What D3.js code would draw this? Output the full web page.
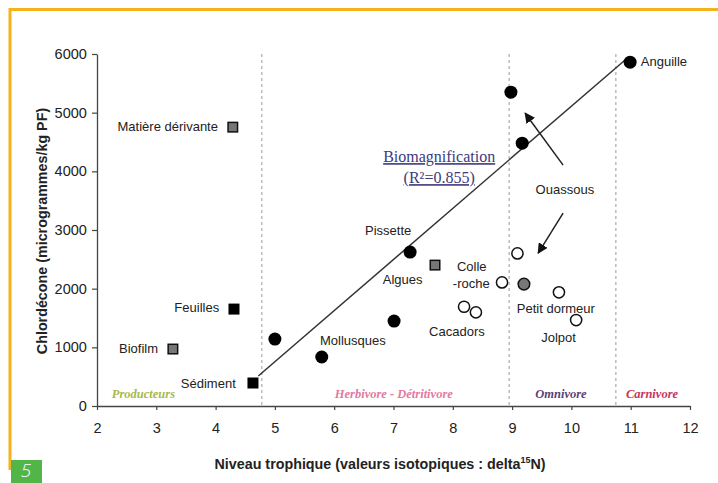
<!DOCTYPE html>
<html><head><meta charset="utf-8">
<script src="https://cdn.jsdelivr.net/npm/d3@7"></script>
<style>
html,body{margin:0;padding:0;background:#fff;}
svg{display:block;}
</style></head>
<body>
<svg id="chart" width="718" height="483"></svg>
<script>
// ---- data ----
const xTicks = [2,3,4,5,6,7,8,9,10,11,12];
const yTicks = [0,1000,2000,3000,4000,5000,6000];
const squaresBlack = [[4.31,1652],[4.63,392]];
const squaresGray = [[4.29,4753],[3.28,971],[7.70,2402]];
const dotsBlack = [[5.0,1141],[5.79,835],[7.01,1448],[7.28,2624],[8.98,5349],[9.17,4480],[10.99,5860]];
const dotsGray = [[9.20,2078]];
const dotsOpen = [[9.09,2601],[8.83,2107],[8.19,1692],[8.39,1596],[9.79,1937],[10.08,1465]];
const regression = [[4.72,511],[10.93,5920]];
const zoneBounds = [4.78,8.95,10.75];
const pointLabels = [
  ["Matière dérivante",4.04,4685,"end"],
  ["Anguille",11.17,5792,"start"],
  ["Pissette",6.52,2913,"start"],
  ["Algues",6.82,2078,"start"],
  ["Colle",8.07,2300,"start"],
  ["-roche",8.00,2010,"start"],
  ["Cacadors",7.60,1192,"start"],
  ["Mollusques",5.76,1039,"start"],
  ["Petit dormeur",9.08,1584,"start"],
  ["Jolpot",9.49,1090,"start"],
  ["Feuilles",4.06,1601,"end"],
  ["Biofilm",3.03,903,"end"],
  ["Sédiment",4.34,307,"end"],
  ["Ouassous",9.89,3612,"middle"]
];
const zoneLabels = [
  ["Producteurs",2.25,136,"#a8b84a"],
  ["Herbivore - Détritivore",6.01,136,"#e27aa0"],
  ["Omnivore",9.39,136,"#5b3f78"],
  ["Carnivore",10.92,136,"#c8345a"]
];
const arrows = [[[9.86,4106],[9.22,4991]],[[9.86,3288],[9.44,2606]]];

// ---- drawing ----
const svg = d3.select("#chart");
const x = d3.scaleLinear().domain([2,12]).range([97,690]);
const y = d3.scaleLinear().domain([0,6000]).range([406,54]);

// frame
svg.append("line").attr("x1",9).attr("x2",718).attr("y1",9.5).attr("y2",9.5).attr("stroke","#f6b21a").attr("stroke-width",3);
svg.append("line").attr("x1",10).attr("x2",10).attr("y1",8).attr("y2",470).attr("stroke","#f6b21a").attr("stroke-width",3);
svg.append("rect").attr("x",11).attr("y",460).attr("width",31).attr("height",23).attr("fill","#52b548");
svg.append("text").attr("x",26).attr("y",477).attr("text-anchor","middle").attr("fill","#fff")
  .attr("font-family","Open Sans, Liberation Sans, sans-serif").attr("font-size",19).attr("font-style","italic").attr("font-weight",300).text("5");

const defs = svg.append("defs");
defs.append("marker").attr("id","ah").attr("viewBox","0 0 10 10").attr("refX",9).attr("refY",5)
  .attr("markerWidth",7).attr("markerHeight",7).attr("orient","auto")
  .append("path").attr("d","M0,0 L10,5 L0,10 z").attr("fill","#111");

// zone dashed lines
svg.selectAll(".zone").data(zoneBounds).join("line")
  .attr("x1",d=>x(d)).attr("x2",d=>x(d)).attr("y1",y(6000)).attr("y2",y(0))
  .attr("stroke","#999").attr("stroke-width",1).attr("stroke-dasharray","3,3");

// axes
const font = "Liberation Sans, Arial, sans-serif";
const xAxis = svg.append("g").attr("transform",`translate(0,${y(0)})`)
  .call(d3.axisBottom(x).tickValues(xTicks).tickSize(4).tickSizeOuter(0).tickFormat(d3.format("d")));
const yAxis = svg.append("g").attr("transform",`translate(${x(2)},0)`)
  .call(d3.axisLeft(y).tickValues(yTicks).tickSize(5).tickSizeOuter(0).tickFormat(d3.format("d")));
[xAxis,yAxis].forEach(g=>{
  g.select(".domain").attr("stroke","#444").attr("stroke-width",1.3);
  g.selectAll(".tick line").attr("stroke","#444").attr("stroke-width",1.2);
  g.selectAll(".tick text").attr("font-family",font).attr("font-size",14.5).attr("fill","#222");
});
xAxis.selectAll(".tick text").attr("dy","1.4em");
yAxis.selectAll(".tick text").attr("dx","-0.15em");

// axis titles
svg.append("text").attr("x",380).attr("y",469).attr("text-anchor","middle")
  .attr("font-family",font).attr("font-size",14.3).attr("font-weight","bold").attr("fill","#222")
  .call(t=>{t.append("tspan").text("Niveau trophique (valeurs isotopiques : delta");
            t.append("tspan").attr("dy",-6).attr("font-size",9).text("15");
            t.append("tspan").attr("dy",6).text("N)");});
svg.append("text").attr("transform","translate(47,231) rotate(-90)").attr("text-anchor","middle")
  .attr("font-family",font).attr("font-size",14.3).attr("font-weight","bold").attr("fill","#222")
  .text("Chlordécone (microgrammes/kg PF)");

// regression line
svg.append("line").attr("x1",x(regression[0][0])).attr("y1",y(regression[0][1]))
  .attr("x2",x(regression[1][0])).attr("y2",y(regression[1][1]))
  .attr("stroke","#333").attr("stroke-width",1.5);

// arrows
svg.selectAll(".arr").data(arrows).join("line")
  .attr("x1",d=>x(d[0][0])).attr("y1",d=>y(d[0][1])).attr("x2",d=>x(d[1][0])).attr("y2",d=>y(d[1][1]))
  .attr("stroke","#222").attr("stroke-width",1.5).attr("marker-end","url(#ah)");

// squares
const sq = 11;
svg.selectAll(".sqb").data(squaresBlack).join("rect")
  .attr("x",d=>x(d[0])-sq/2).attr("y",d=>y(d[1])-sq/2).attr("width",sq).attr("height",sq)
  .attr("fill","#000");
svg.selectAll(".sqg").data(squaresGray).join("rect")
  .attr("x",d=>x(d[0])-sq/2+0.75).attr("y",d=>y(d[1])-sq/2+0.75).attr("width",sq-1.5).attr("height",sq-1.5)
  .attr("fill","#777").attr("stroke","#111").attr("stroke-width",1.5);
// dots
svg.selectAll(".db").data(dotsBlack).join("circle")
  .attr("cx",d=>x(d[0])).attr("cy",d=>y(d[1])).attr("r",6.5).attr("fill","#000");
svg.selectAll(".dg").data(dotsGray).join("circle")
  .attr("cx",d=>x(d[0])).attr("cy",d=>y(d[1])).attr("r",5.8).attr("fill","#777").attr("stroke","#111").attr("stroke-width",1.5);
svg.selectAll(".do").data(dotsOpen).join("circle")
  .attr("cx",d=>x(d[0])).attr("cy",d=>y(d[1])).attr("r",5.6).attr("fill","#fff").attr("stroke","#111").attr("stroke-width",1.5);

// point labels
svg.selectAll(".pl").data(pointLabels).join("text")
  .attr("x",d=>x(d[1])).attr("y",d=>y(d[2])).attr("text-anchor",d=>d[3])
  .attr("font-family",font).attr("font-size",13).attr("fill","#222").text(d=>d[0]);

// biomagnification
const bio = svg.append("g").attr("font-family","Liberation Serif, Times New Roman, serif").attr("font-size",16).attr("fill","#3d3a7c");
bio.append("text").attr("x",x(7.77)).attr("y",y(4157)).attr("text-anchor","middle").attr("text-decoration","underline").text("Biomagnification");
bio.append("text").attr("x",x(7.77)).attr("y",y(3799)).attr("text-anchor","middle").attr("text-decoration","underline").text("(R²=0.855)");

// zone labels
svg.selectAll(".zl").data(zoneLabels).join("text")
  .attr("x",d=>x(d[1])).attr("y",d=>y(d[2])).attr("fill",d=>d[3])
  .attr("font-family","Liberation Serif, Times New Roman, serif").attr("font-size",12.5).attr("font-style","italic").attr("font-weight","bold")
  .text(d=>d[0]);
</script>
</body></html>
